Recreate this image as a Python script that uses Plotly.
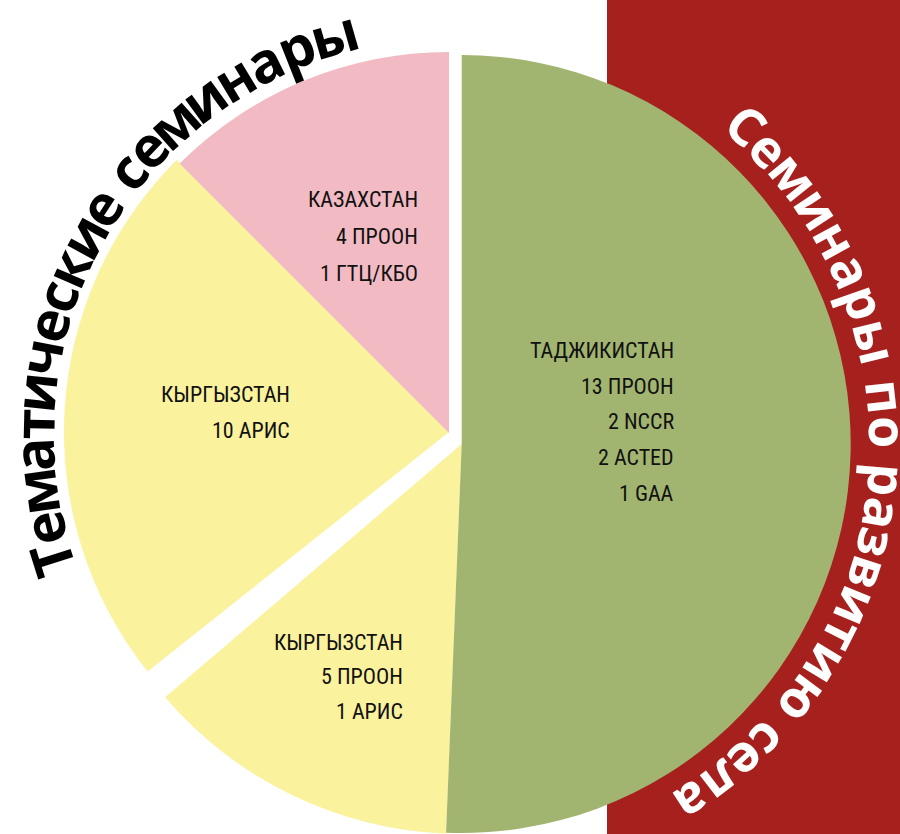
import math
import plotly.graph_objects as go

W, H = 900, 834

# ---------------- data ----------------
slice_keys = ["tj", "kg_rural", "kg_them", "kz"]
slice_shares = [50.64, 13.11, 23.19, 12.50]          # % of the full circle
slice_colors = ["#A2B570", "#FBF29D", "#FBF29D", "#F2BBC4"]

label_tj = ["ТАДЖИКИСТАН", "13 ПРООН", "2 NCCR", "2 ACTED", "1 GAA"]
label_kg_rural = ["КЫРГЫЗСТАН", "5 ПРООН", "1 АРИС"]
label_kg_them = ["КЫРГЫЗСТАН", "10 АРИС"]
label_kz = ["КАЗАХСТАН", "4 ПРООН", "1 ГТЦ/КБО"]

title_left = "Тематические семинары"
title_right = "Семинары по развитию села"

# ---------------- layout / style ----------------
share = dict(zip(slice_keys, slice_shares))
color = dict(zip(slice_keys, slice_colors))
labels = {"tj": label_tj, "kg_rural": label_kg_rural, "kg_them": label_kg_them, "kz": label_kz}

start = {
    "tj": 0.0,
    "kg_rural": share["tj"] * 3.6,
    "kg_them": 360.0 - (share["kz"] + share["kg_them"]) * 3.6,
    "kz": 360.0 - share["kz"] * 3.6,
}
# exploded pieces: centre (px) and radius (px)
geo = {
    "tj": (461.7, 444.0, 389.0),
    "kg_rural": (461.7, 444.0, 390.0),
    "kg_them": (449.0, 432.0, 385.0),
    "kz": (449.0, 433.0, 381.0),
}
draw_order = ["kg_rural", "tj", "kg_them", "kz"]

fig = go.Figure()
for k in draw_order:
    cx, cy, r = geo[k]
    fig.add_trace(go.Pie(
        values=[share[k], 100.0 - share[k]],
        labels=[k, k + "_rest"],
        sort=False,
        direction="clockwise",
        rotation=start[k],
        marker=dict(colors=[color[k], "rgba(0,0,0,0)"], line=dict(width=0)),
        textinfo="none",
        hoverinfo="skip",
        showlegend=False,
        domain=dict(x=[(cx - r) / W, (cx + r) / W],
                    y=[max(0.0, 1 - (cy + r) / H), min(1.0, 1 - (cy - r) / H)]),
    ))

annotations = []

# slice labels (right aligned blocks)
lab_font = "Roboto Condensed, Liberation Sans Narrow, Arial Narrow, Roboto, sans-serif"
lab_fs = 22
lab_pos = {"tj": (674, 358.3, 35.7), "kz": (418.3, 207.0, 37.0),
           "kg_them": (290.0, 402.3, 36.0), "kg_rural": (403.3, 650.0, 34.7)}
for k, lines in labels.items():
    xr, yb, sp = lab_pos[k]
    for i, line in enumerate(lines):
        yc = yb + i * sp - 0.36 * lab_fs
        annotations.append(dict(
            text=line, x=xr / W, y=1 - yc / H, xref="paper", yref="paper",
            xanchor="right", yanchor="middle", showarrow=False,
            borderpad=0, borderwidth=0,
            font=dict(family=lab_font, size=lab_fs, color="#111111"),
        ))

# curved titles
cw = {"Т": .57, "С": .62, "е": .59, "м": .76, "а": .60, "т": .52, "и": .67, "ч": .63,
      "с": .51, "к": .60, "н": .67, "р": .63, "ы": .87, " ": .26, "п": .66, "о": .62,
      "з": .53, "в": .61, "ю": .90, "л": .64}
title_font = "Open Sans, Noto Sans, DejaVu Sans, sans-serif"


def arc_text(text, cx, cy, R, a0, a1, fs, col):
    w = [cw.get(c, .6) for c in text]
    cum = []
    s = 0.0
    for wi in w:
        cum.append(s + wi / 2)
        s += wi
    span = cum[-1] - cum[0]
    for c, m in zip(text, cum):
        if c == " ":
            continue
        th = a0 + (m - cum[0]) / span * (a1 - a0)
        t = math.radians(th)
        px = cx + R * math.sin(t)
        py = cy - R * math.cos(t)
        ang = ((th + 180) % 360) - 180
        annotations.append(dict(
            text="<b>%s</b>" % c, x=px / W, y=1 - py / H, xref="paper", yref="paper",
            xanchor="center", yanchor="middle", showarrow=False, textangle=ang,
            borderpad=0, borderwidth=0,
            font=dict(family=title_font, size=fs, color=col),
        ))


arc_text(title_left, 449.0, 434.0, 417.0, 252.5, 344.0, 56, "#000000")
arc_text(title_right, 461.7, 444.0, 428.0, 41.8, 147.1, 52, "#FFFFFF")

fig.update_layout(
    width=W, height=H,
    margin=dict(l=0, r=0, t=0, b=0, pad=0),
    paper_bgcolor="#FFFFFF",
    plot_bgcolor="#FFFFFF",
    showlegend=False,
    shapes=[dict(type="rect", xref="paper", yref="paper", x0=607 / W, x1=1, y0=0, y1=1,
                 fillcolor="#A6211E", line=dict(width=0), layer="below")],
    annotations=annotations,
)

fig.write_html(
    "out.html",
    config={"displayModeBar": False},
    post_script="document.body.style.margin='0';document.body.style.overflow='hidden';",
)
